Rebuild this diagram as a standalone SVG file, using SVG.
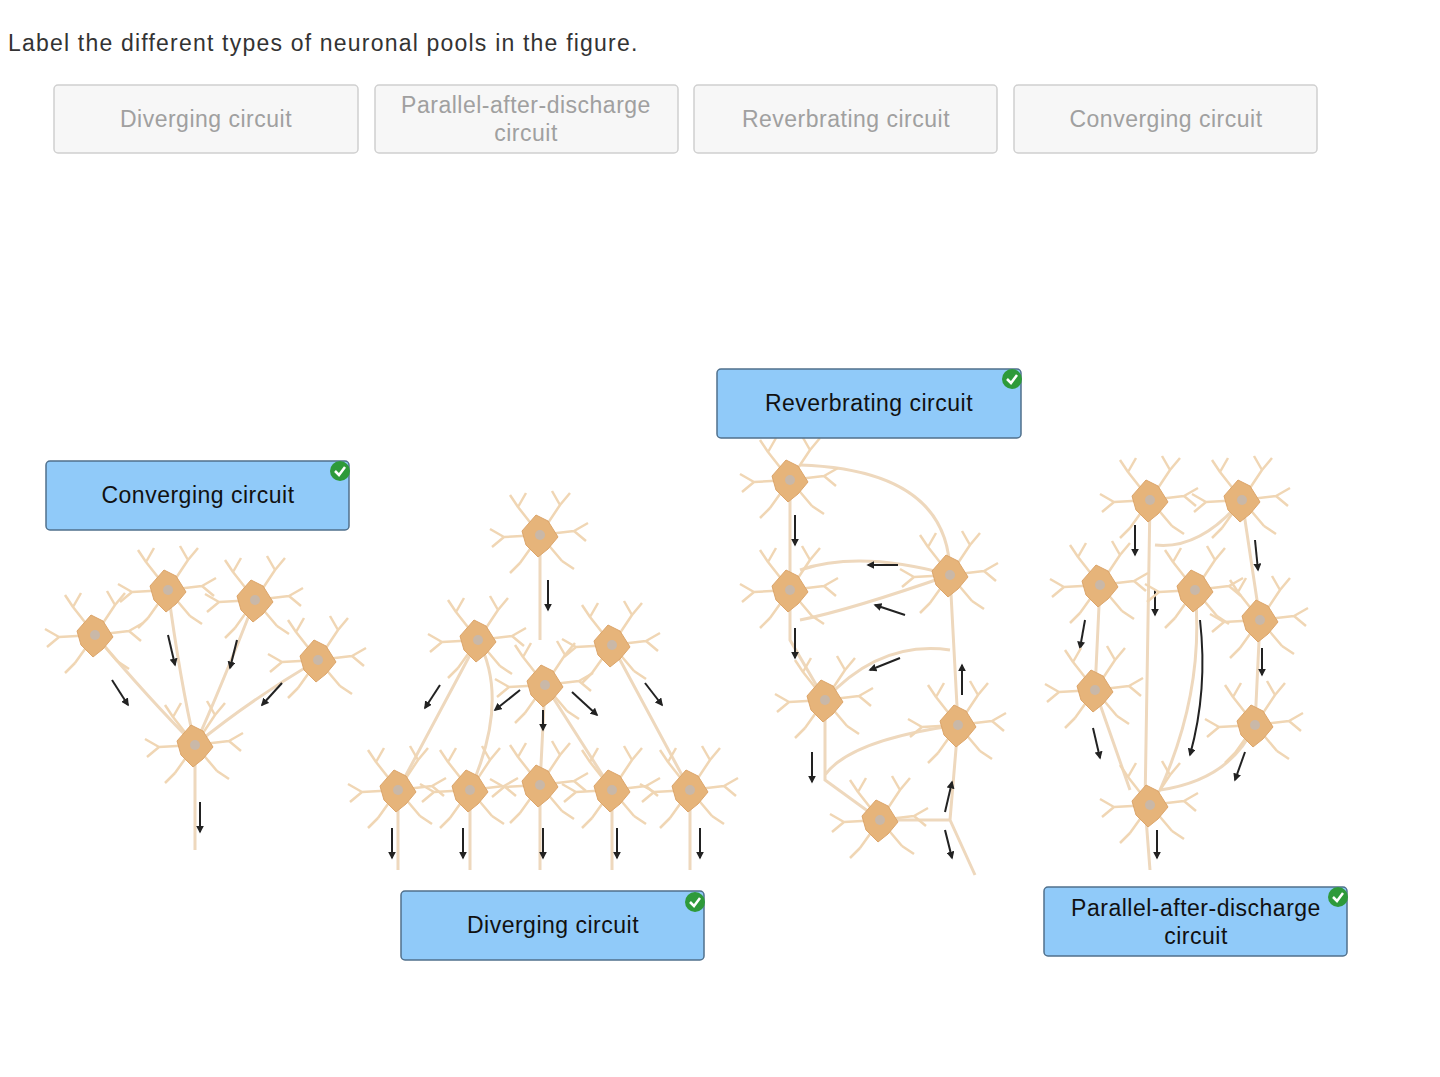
<svg xmlns="http://www.w3.org/2000/svg" width="1440" height="1077" viewBox="0 0 1440 1077">
<style>
.t{font-family:"Liberation Sans",Arial,sans-serif;letter-spacing:0.5px}
.btn{fill:#f7f7f7;stroke:#d0d0d0;stroke-width:1.5}
.bt{fill:#a0a0a0;font-size:23px}
.lab{fill:#90caf9;stroke:#50708c;stroke-width:1.5}
.lt{fill:#111;font-size:23px}
.ax{fill:none;stroke:#eed8bd;stroke-width:3}
.ar{stroke:#222;stroke-width:2;fill:none;marker-end:url(#ah)}
</style>
<defs>
<marker id="ah" viewBox="0 0 10 10" refX="8" refY="5" markerWidth="4" markerHeight="4" orient="auto"><path d="M0,0L10,5L0,10z" fill="#222"/></marker>
<g id="n">
<g stroke="#f0d6b4" stroke-width="2.5" fill="none">
<path d="M0,0L-22,-28M-22,-28L-30,-40M-22,-28L-14,-42M0,0L20,-30M20,-30L30,-42M20,-30L12,-44M0,0L34,-4M34,-4L48,-12M34,-4L46,6M0,0L-36,2M-36,2L-50,-6M-36,2L-48,12M0,0L-20,28M-20,28L-30,38M0,0L22,26M22,26L34,34"/>
</g>
<path d="M-4,-20L8,-14L18,2L8,14L-2,22L-14,10L-18,-4Z" fill="#e6b47a" stroke="#dca56a"/>
<circle cx="0" cy="0" r="5" fill="#c9b8a8"/>
</g>
<g id="ck"><circle r="10" fill="#2e9a3a"/><path d="M-5,0L-1,4L5,-4" stroke="#fff" stroke-width="2.5" fill="none"/></g>
</defs>
<rect width="1440" height="1077" fill="#fff"/>
<text x="8" y="51" font-size="23" fill="#333" font-family="Liberation Sans, Arial, sans-serif" letter-spacing="1.2">Label the different types of neuronal pools in the figure.</text>
<g id="bank">
<rect class="btn" x="54" y="85" width="304" height="68" rx="4"/><text class="t bt" x="206" y="127" text-anchor="middle">Diverging circuit</text>
<rect class="btn" x="375" y="85" width="303" height="68" rx="4"/><text class="t bt" x="526" y="113" text-anchor="middle">Parallel-after-discharge</text><text class="t bt" x="526" y="141" text-anchor="middle">circuit</text>
<rect class="btn" x="694" y="85" width="303" height="68" rx="4"/><text class="t bt" x="846" y="127" text-anchor="middle">Reverbrating circuit</text>
<rect class="btn" x="1014" y="85" width="303" height="68" rx="4"/><text class="t bt" x="1166" y="127" text-anchor="middle">Converging circuit</text>
</g>
<g id="connectors">
<path class="ax" d="M95,635Q150,700 195,745M168,590Q180,680 195,745M255,600Q220,690 195,745M318,660Q250,700 195,745M195,745L195,850"/>
<path class="ax" d="M540,535L540,640M478,640L398,790M478,640Q510,700 470,790M545,685L540,785M545,685L612,790M612,645L690,790M398,790L398,870M470,790L470,870M540,785L540,870M612,790L612,870M690,790L690,870"/>
<path class="ax" d="M790,480L790,590L790,640L825,700L825,780L880,820L950,820L975,875M950,820L958,725L950,575Q950,470 800,465M950,575Q860,550 800,570M950,575Q850,610 800,620M950,650Q880,640 825,700M958,725Q850,740 825,775"/>
<path class="ax" d="M1150,500L1145,805L1150,870M1242,500Q1200,550 1155,545M1242,500L1260,620L1255,725Q1230,780 1160,790M1100,585L1095,690L1130,790M1195,590Q1205,690 1160,790"/>
<path class="ar" d="M112,680L128,705"/><path class="ar" d="M168,635L175,665"/><path class="ar" d="M237,640L230,668"/><path class="ar" d="M282,683L262,705"/><path class="ar" d="M200,802L200,832"/>
<path class="ar" d="M548,580L548,610"/><path class="ar" d="M440,685L425,708"/><path class="ar" d="M520,690L495,710"/><path class="ar" d="M572,692L597,715"/><path class="ar" d="M645,683L662,705"/><path class="ar" d="M543,710L543,730"/>
<path class="ar" d="M392,828L392,858"/><path class="ar" d="M463,828L463,858"/><path class="ar" d="M543,828L543,858"/><path class="ar" d="M617,828L617,858"/><path class="ar" d="M700,828L700,858"/>
<path class="ar" d="M795,515L795,545"/><path class="ar" d="M898,565L868,565"/><path class="ar" d="M905,615L875,605"/><path class="ar" d="M900,658L870,670"/><path class="ar" d="M795,628L795,658"/><path class="ar" d="M962,695L962,665"/><path class="ar" d="M812,752L812,782"/><path class="ar" d="M945,812L952,782"/><path class="ar" d="M945,830L952,858"/>
<path class="ar" d="M1135,525L1135,555"/><path class="ar" d="M1155,590L1155,615"/><path class="ar" d="M1255,540L1258,570"/><path class="ar" d="M1085,620L1080,648"/><path class="ar" d="M1262,648L1262,675"/><path class="ar" d="M1093,728L1100,758"/><path class="ar" d="M1245,752L1235,780"/><path class="ar" d="M1157,830L1157,858"/><path class="ar" d="M1200,620Q1208,690 1190,755"/>
</g>
<g id="neurons">
<use href="#n" x="95" y="635"/><use href="#n" x="168" y="590"/><use href="#n" x="255" y="600"/><use href="#n" x="318" y="660"/><use href="#n" x="195" y="745"/>
<use href="#n" x="540" y="535"/><use href="#n" x="478" y="640"/><use href="#n" x="545" y="685"/><use href="#n" x="612" y="645"/>
<use href="#n" x="398" y="790"/><use href="#n" x="470" y="790"/><use href="#n" x="540" y="785"/><use href="#n" x="612" y="790"/><use href="#n" x="690" y="790"/>
<use href="#n" x="790" y="480"/><use href="#n" x="790" y="590"/><use href="#n" x="950" y="575"/><use href="#n" x="825" y="700"/><use href="#n" x="958" y="725"/><use href="#n" x="880" y="820"/>
<use href="#n" x="1150" y="500"/><use href="#n" x="1242" y="500"/><use href="#n" x="1100" y="585"/><use href="#n" x="1195" y="590"/><use href="#n" x="1260" y="620"/><use href="#n" x="1095" y="690"/><use href="#n" x="1255" y="725"/><use href="#n" x="1150" y="805"/>
</g>
<g id="label-converging"><rect class="lab" x="46" y="461" width="303" height="69" rx="4"/><text class="t lt" x="198" y="503" text-anchor="middle">Converging circuit</text><use href="#ck" x="340" y="471"/></g>
<g id="label-reverbrating"><rect class="lab" x="717" y="369" width="304" height="69" rx="4"/><text class="t lt" x="869" y="411" text-anchor="middle">Reverbrating circuit</text><use href="#ck" x="1012" y="379"/></g>
<g id="label-diverging"><rect class="lab" x="401" y="891" width="303" height="69" rx="4"/><text class="t lt" x="553" y="933" text-anchor="middle">Diverging circuit</text><use href="#ck" x="695" y="902"/></g>
<g id="label-parallel"><rect class="lab" x="1044" y="887" width="303" height="69" rx="4"/><text class="t lt" x="1196" y="916" text-anchor="middle">Parallel-after-discharge</text><text class="t lt" x="1196" y="944" text-anchor="middle">circuit</text><use href="#ck" x="1338" y="897"/></g>
</svg>
